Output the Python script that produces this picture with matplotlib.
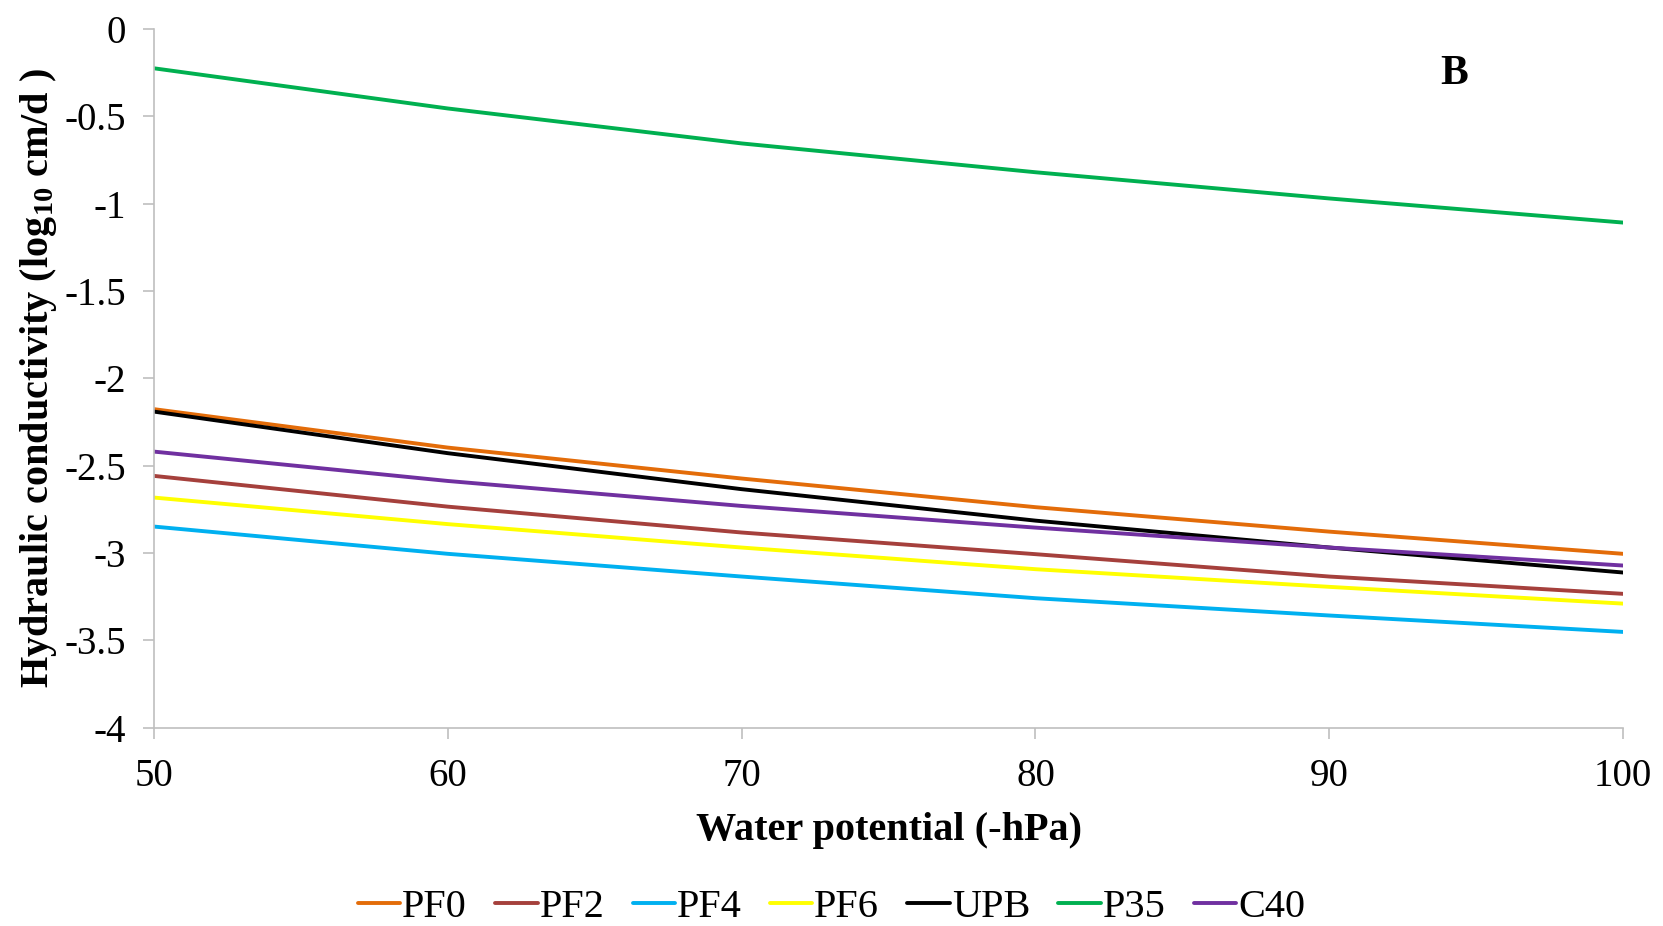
import matplotlib
matplotlib.use('Agg')
import matplotlib.pyplot as plt

plt.rcParams['font.family'] = ['Liberation Serif', 'DejaVu Serif']
plt.rcParams['mathtext.fontset'] = 'custom'
plt.rcParams['mathtext.rm'] = 'Liberation Serif:bold'
plt.rcParams['mathtext.it'] = 'Liberation Serif:bold'
plt.rcParams['mathtext.bf'] = 'Liberation Serif:bold'

# water potential (-hPa)
potential = [50, 60, 70, 80, 90, 100]

# log10 hydraulic conductivity (cm/d) for each treatment
pf0 = [-2.176, -2.396, -2.573, -2.737, -2.877, -3.004]
pf2 = [-2.558, -2.734, -2.882, -3.006, -3.134, -3.233]
pf4 = [-2.848, -3.004, -3.134, -3.258, -3.357, -3.451]
pf6 = [-2.682, -2.834, -2.968, -3.092, -3.193, -3.289]
upb = [-2.190, -2.428, -2.634, -2.814, -2.968, -3.111]
p35 = [-0.225, -0.455, -0.655, -0.820, -0.970, -1.108]
c40 = [-2.419, -2.587, -2.730, -2.854, -2.968, -3.071]

names = ['PF0', 'PF2', 'PF4', 'PF6', 'UPB', 'P35', 'C40']
series = [pf0, pf2, pf4, pf6, upb, p35, c40]
colors = ['#E36C09', '#A5403C', '#00B0F0', '#FFFF00', '#000000', '#00B050', '#7030A0']

fig = plt.figure(figsize=(16.63, 9.26), dpi=100)
ax = fig.add_axes([0.0926, 0.214, 0.8834, 0.7547])

for name, vals, col in zip(names, series, colors):
    ax.plot(potential, vals, color=col, lw=2.8, label=name, solid_capstyle='round')

ax.set_xlim(50, 100)
ax.set_ylim(-4, 0)
ax.set_xticks([50, 60, 70, 80, 90, 100])
ax.set_yticks([0, -0.5, -1, -1.5, -2, -2.5, -3, -3.5, -4])
ax.set_yticklabels(['0', '-0.5', '-1', '-1.5', '-2', '-2.5', '-3', '-3.5', '-4'])

for side in ['top', 'right']:
    ax.spines[side].set_visible(False)
for side in ['left', 'bottom']:
    ax.spines[side].set_color('#BFBFBF')
    ax.spines[side].set_linewidth(1.2)
ax.tick_params(axis='both', direction='out', length=8, width=1.2, color='#BFBFBF',
               labelsize=28, pad=12)
ax.tick_params(axis='x', pad=14)

ax.set_xlabel('Water potential (-hPa)', fontsize=29, fontweight='bold', labelpad=12)
ax.set_ylabel('Hydraulic conductivity (log$_{10}$ cm/d )', fontsize=29,
              fontweight='bold', labelpad=4)

ax.text(0.885, 0.935, 'B', transform=ax.transAxes, fontsize=30, fontweight='bold',
        ha='center', va='center')

fig.legend(loc='center', bbox_to_anchor=(0.5, 0.02), ncol=7, frameon=False,
           fontsize=29, handlelength=1.05, handletextpad=0.05, columnspacing=0.7)

fig.savefig('out.png', dpi=100)
